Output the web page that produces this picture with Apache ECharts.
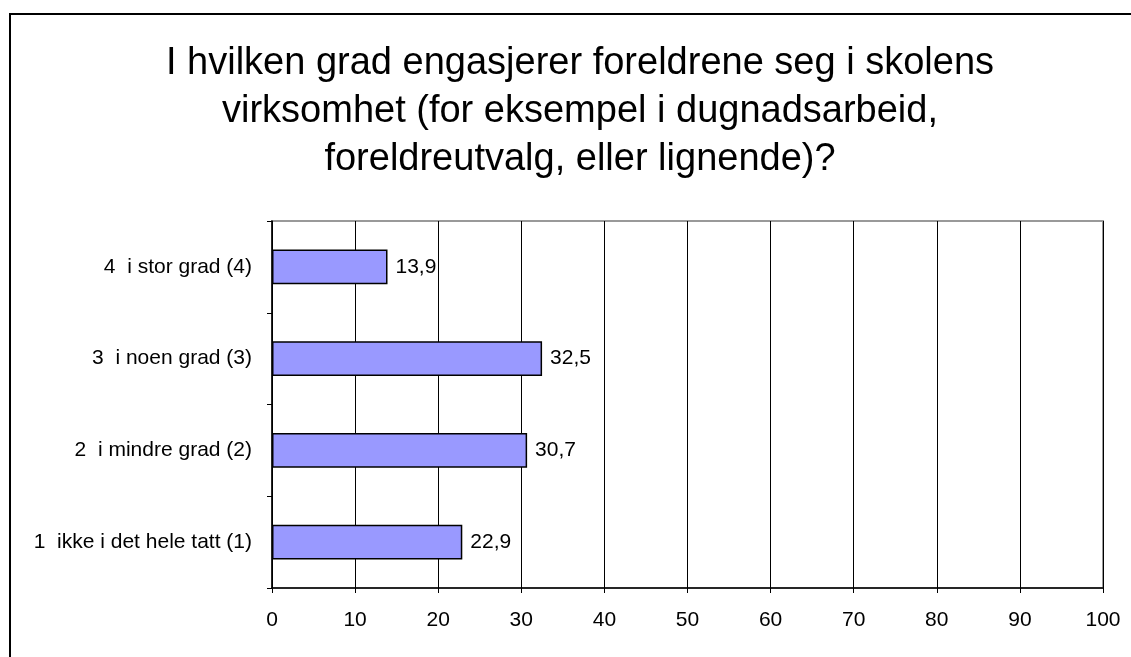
<!DOCTYPE html>
<html>
<head>
<meta charset="utf-8">
<script src="https://cdn.jsdelivr.net/npm/echarts@6/dist/echarts.min.js"></script>
<style>
  html, body { margin: 0; padding: 0; background: #fff; }
  #chart { width: 1131px; height: 657px; }
</style>
</head>
<body>
<div id="chart"></div>
<script>
// categories bottom to top (category axis draws first item at the bottom)
const categories = [
    '1  ikke i det hele tatt (1)',
    '2  i mindre grad (2)',
    '3  i noen grad (3)',
    '4  i stor grad (4)'
]
const values = [22.9, 30.7, 32.5, 13.9]
const titleLines = [
    'I hvilken grad engasjerer foreldrene seg i skolens',
    'virksomhet (for eksempel i dugnadsarbeid,',
    'foreldreutvalg, eller lignende)?'
]

const font = '"Liberation Sans", Arial, sans-serif'
const chart = echarts.init(document.getElementById('chart'))

chart.setOption({
    backgroundColor: '#fff',
    animation: false,
    title: {
        text: titleLines.join('\n'),
        left: 575,
        top: 35,
        textAlign: 'center',
        textStyle: {
            fontFamily: font,
            fontSize: 38,
            fontWeight: 'normal',
            color: '#000',
            lineHeight: 48
        }
    },
    graphic: [{
        type: 'rect',
        shape: { x: 10, y: 14, width: 1300, height: 800 },
        style: { fill: 'none', stroke: '#000', lineWidth: 2 },
        z: 100
    }],
    grid: {
        left: 272,
        top: 221,
        right: 28,
        bottom: 69,
        show: true,
        borderColor: '#999',
        borderWidth: 2,
        backgroundColor: 'transparent'
    },
    xAxis: {
        type: 'value',
        min: 0,
        max: 100,
        interval: 10,
        axisLine: { show: true, lineStyle: { color: '#000', width: 1.5 } },
        axisTick: { show: true, length: 5, lineStyle: { color: '#000' } },
        splitLine: { show: true, lineStyle: { color: '#000', width: 1 } },
        axisLabel: { color: '#000', fontFamily: font, fontSize: 21, margin: 22 }
    },
    yAxis: {
        type: 'category',
        data: categories,
        axisLine: { show: true, lineStyle: { color: '#000', width: 1.5 } },
        axisTick: { show: true, length: 5, lineStyle: { color: '#000' } },
        axisLabel: { color: '#000', fontFamily: font, fontSize: 21, margin: 20 }
    },
    series: [{
        type: 'bar',
        data: values,
        barWidth: '38%',
        itemStyle: { color: '#9999FF', borderColor: '#000', borderWidth: 1.5 },
        label: {
            show: true,
            position: 'right',
            distance: 8,
            color: '#000',
            fontFamily: font,
            fontSize: 21,
            formatter: p => String(p.value).replace('.', ',')
        }
    }]
})
</script>
</body>
</html>
